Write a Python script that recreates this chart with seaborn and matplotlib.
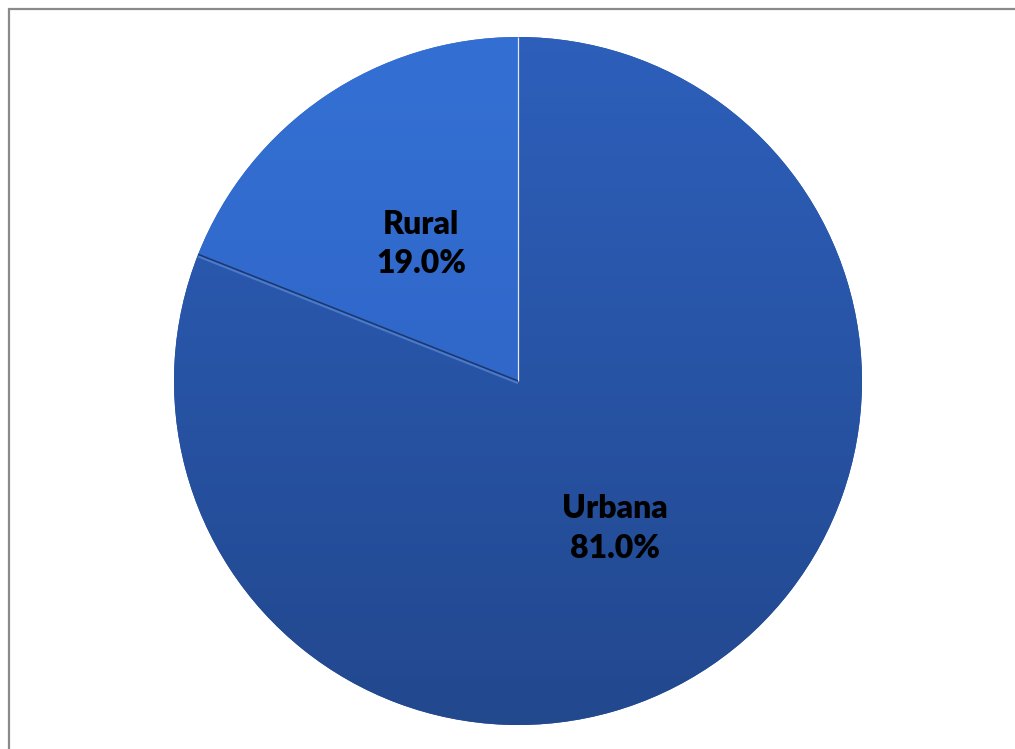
import numpy as np
import matplotlib
matplotlib.use("Agg")
import matplotlib.pyplot as plt
import matplotlib.patches as mpatches
from matplotlib.colors import to_rgb
import seaborn as sns

# Population share by area
categories = ["Urbana", "Rural"]
shares = [81.0, 19.0]

sns.set_theme(style="white")
plt.rcParams["font.family"] = ["Lato", "DejaVu Sans"]

W, H = 1015, 749
fig = plt.figure(figsize=(W / 100, H / 100), dpi=100)
fig.patch.set_facecolor("white")

cx, cy, r = 518, 381, 344
ax = fig.add_axes([(cx - r) / W, (H - cy - r) / H, 2 * r / W, 2 * r / H])

# top / bottom shading for each slice
top_cols = ["#2d5fbb", "#3470d4"]
bot_cols = ["#22488e", "#2c5fbe"]
base_cols = sns.blend_palette([top_cols[0], bot_cols[0]], 3)[1:2] + \
    sns.blend_palette([top_cols[1], bot_cols[1]], 3)[1:2]

labels = [f"{c}\n{v:.1f}%" for c, v in zip(categories, shares)]
wedges, texts = ax.pie(
    shares, labels=labels, colors=base_cols, startangle=90,
    counterclock=False, radius=1.0, labeldistance=0.5,
    wedgeprops=dict(edgecolor="none", linewidth=0),
    textprops=dict(fontsize=23, fontweight="heavy", color="black",
                   ha="center", va="center", linespacing=1.45),
)
ax.set_xlim(-1, 1)
ax.set_ylim(-1, 1)
ax.set_aspect("equal")
ax.axis("off")

# vertical gradient fill clipped to each slice
yy = np.linspace(0, 1, 256)[:, None]
for w, tc, bc in zip(wedges, top_cols, bot_cols):
    t, b = np.array(to_rgb(tc)), np.array(to_rgb(bc))
    img = (t[None, None, :] * (1 - yy[..., None]) + b[None, None, :] * yy[..., None])
    img = np.repeat(img, 4, axis=1)
    im = ax.imshow(img, extent=[-1, 1, -1, 1], origin="upper", zorder=w.get_zorder() + 0.1,
                   aspect="auto", interpolation="bilinear")
    im.set_clip_path(w)

# slice boundaries: light line at the top, darker bevel on the other side
bounds = sorted({round(w.theta1 % 360, 6) for w in wedges})
for ang in bounds:
    a = np.deg2rad(ang)
    if abs(ang - 90) < 1e-3:
        ax.plot([0, np.cos(a)], [0, np.sin(a)], color="#e6e9ef", lw=0.9,
                zorder=5, solid_capstyle="butt")
    else:
        ax.plot([0, np.cos(a)], [0, np.sin(a)], color="#1b3870", lw=1.2,
                zorder=5, solid_capstyle="butt")
        off = 0.006
        ax.plot([0, np.cos(a)], [-off, np.sin(a) - off], color="#5b8ad8", lw=1.5,
                alpha=0.7, zorder=5, solid_capstyle="butt")

# nudge labels slightly down and keep them above the fills
for t in texts:
    x, y = t.get_position()
    t.set_position((x, y - 0.015))
    t.set_zorder(10)

# chart area frame
fig.add_artist(mpatches.Rectangle((8.5 / W, -0.05), 1.2, (H - 8.5) / H + 0.05,
                                  transform=fig.transFigure, fill=False,
                                  edgecolor="#8a8a8a", linewidth=1.6))

fig.savefig("out.png", dpi=100, facecolor="white")
